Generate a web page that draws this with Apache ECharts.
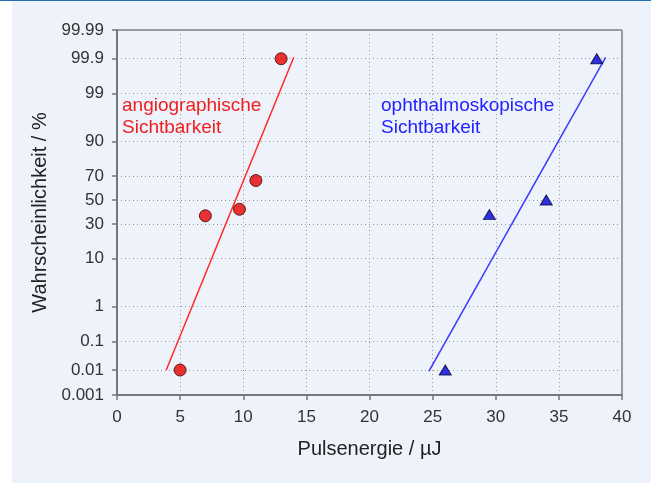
<!DOCTYPE html>
<html>
<head>
<meta charset="utf-8">
<script src="https://cdn.jsdelivr.net/npm/echarts@6/dist/echarts.min.js"></script>
<style>
html,body{margin:0;padding:0;background:#ffffff;}
#wrap{position:absolute;left:0;top:0;width:651px;height:483px;background:#ffffff;}
#bar{position:absolute;left:0;top:0;width:651px;height:1px;background:#1f6fb8;}
#chart{position:absolute;left:12px;top:1px;width:639px;height:482px;background:#eef2fa;}
</style>
</head>
<body>
<div id="wrap"><div id="bar"></div><div id="chart"></div></div>
<script>
// ---- data (percent values on probability scale) ----
const yTickLabels = ['0.001','0.01','0.1','1','10','30','50','70','90','99','99.9','99.99'];
const angioPoints = [[5, 0.01], [7, 36.5], [9.7, 42], [11, 66.5], [13, 99.9]];
const ophthPoints = [[26, 0.01], [29.5, 37.5], [34, 50], [38, 99.9]];
const angioLine = [[3.9, 0.01], [14, 99.91]];
const ophthLine = [[24.7, 0.009], [38.7, 99.91]];
const xTicks = {min: 0, max: 40, interval: 5};

// inverse normal CDF (probability scale transform)
function probit(p) {
  const a = [-3.969683028665376e+01, 2.209460984245205e+02, -2.759285104469687e+02, 1.383577518672690e+02, -3.066479806614716e+01, 2.506628277459239e+00];
  const b = [-5.447609879822406e+01, 1.615858368580409e+02, -1.556989798598866e+02, 6.680131188771972e+01, -1.328068155288572e+01];
  const c = [-7.784894002430293e-03, -3.223964580411365e-01, -2.400758277161838e+00, -2.549732539343734e+00, 4.374664141464968e+00, 2.938163982698783e+00];
  const d = [7.784695709041462e-03, 3.224671290700398e-01, 2.445134137142996e+00, 3.754408661907416e+00];
  const pl = 0.02425, ph = 1 - pl;
  let q, r;
  if (p < pl) { q = Math.sqrt(-2 * Math.log(p)); return (((((c[0]*q+c[1])*q+c[2])*q+c[3])*q+c[4])*q+c[5]) / ((((d[0]*q+d[1])*q+d[2])*q+d[3])*q+1); }
  if (p <= ph) { q = p - 0.5; r = q*q; return (((((a[0]*r+a[1])*r+a[2])*r+a[3])*r+a[4])*r+a[5])*q / (((((b[0]*r+b[1])*r+b[2])*r+b[3])*r+b[4])*r+1); }
  q = Math.sqrt(-2 * Math.log(1 - p));
  return -(((((c[0]*q+c[1])*q+c[2])*q+c[3])*q+c[4])*q+c[5]) / ((((d[0]*q+d[1])*q+d[2])*q+d[3])*q+1);
}
const z = pct => probit(pct / 100);
const tr = arr => arr.map(([x, p]) => [x, z(p)]);
const yTickValues = yTickLabels.map(s => z(parseFloat(s)));
function labelFor(v) {
  let best = 0, bd = Infinity;
  yTickValues.forEach((t, i) => { const dd = Math.abs(t - v); if (dd < bd) { bd = dd; best = i; } });
  return yTickLabels[best];
}

const FONT = 'Liberation Sans, Arial, sans-serif';
const chart = echarts.init(document.getElementById('chart'));
chart.setOption({
  animation: false,
  backgroundColor: '#eef2fa',
  grid: {left: 105, right: 29, top: 29, bottom: 88, show: true, borderColor: '#444', borderWidth: 1, backgroundColor: 'transparent'},
  xAxis: {
    type: 'value', min: xTicks.min, max: xTicks.max, interval: xTicks.interval,
    name: 'Pulsenergie / µJ', nameLocation: 'middle', nameGap: 44,
    nameTextStyle: {fontFamily: FONT, fontSize: 20, color: '#222'},
    axisLine: {show: true, onZero: false, lineStyle: {color: '#777', width: 2}},
    axisTick: {show: true, length: 5, lineStyle: {color: '#777', width: 1.5}},
    axisLabel: {fontFamily: FONT, fontSize: 17, color: '#333', margin: 14},
    splitLine: {show: true, lineStyle: {color: '#999', type: [1, 3], width: 1}}
  },
  yAxis: {
    type: 'value', min: z(0.001), max: z(99.99),
    name: 'Wahrscheinlichkeit / %', nameLocation: 'middle', nameGap: 59, nameRotate: 90,
    nameTextStyle: {fontFamily: FONT, fontSize: 20, color: '#222'},
    axisLine: {show: true, onZero: false, lineStyle: {color: '#777', width: 2}},
    axisTick: {show: true, length: 5, customValues: yTickValues, lineStyle: {color: '#777', width: 1.5}},
    axisLabel: {fontFamily: FONT, fontSize: 17, color: '#333', margin: 13, customValues: yTickValues, formatter: v => labelFor(v)},
    splitLine: {show: true, lineStyle: {color: '#999', type: [1, 3], width: 1}}
  },
  series: [
    {type: 'line', data: tr(angioLine), showSymbol: false, symbol: 'none', lineStyle: {color: '#ff2a2a', width: 1.5}, z: 2},
    {type: 'line', data: tr(ophthLine), showSymbol: false, symbol: 'none', lineStyle: {color: '#3a3aff', width: 1.5}, z: 2},
    {type: 'scatter', data: tr(angioPoints), symbol: 'circle', symbolSize: 12, itemStyle: {color: '#e80000', borderColor: '#3a0000', borderWidth: 1}, z: 3},
    {type: 'scatter', data: tr(ophthPoints), symbol: 'triangle', symbolSize: [12, 10], itemStyle: {color: '#0000e0', borderColor: '#000030', borderWidth: 1}, z: 3}
  ],
  graphic: [
    {type: 'text', left: 110, top: 94, style: {text: 'angiographische\nSichtbarkeit', fill: '#f01e1e', font: '19px ' + FONT, lineHeight: 22}},
    {type: 'text', left: 369, top: 94, style: {text: 'ophthalmoskopische\nSichtbarkeit', fill: '#2222ff', font: '19px ' + FONT, lineHeight: 22}}
  ]
});
</script>
</body>
</html>
